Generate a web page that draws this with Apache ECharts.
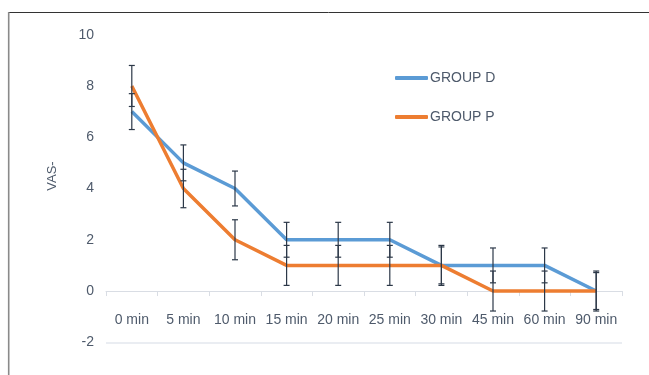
<!DOCTYPE html>
<html>
<head>
<meta charset="utf-8">
<style>
  html, body { margin: 0; padding: 0; background: #fff; }
  #chart { width: 649px; height: 375px; }
</style>
<script src="https://cdn.jsdelivr.net/npm/echarts@6/dist/echarts.min.js"></script>
</head>
<body>
<div id="chart"></div>
<script>
// Time points after the intervention
const categories = ['0 min', '5 min', '10 min', '15 min', '20 min', '25 min', '30 min', '45 min', '60 min', '90 min'];

// Mean VAS per group
const groupD = [7, 5, 4, 2, 2, 2, 1, 1, 1, 0];
const groupP = [8, 4, 2, 1, 1, 1, 1, 0, 0, 0];

// Standard deviation (error bar half-length) per group
const errD = [0.7, 0.7, 0.68, 0.68, 0.68, 0.68, 0.72, 0.68, 0.68, 0.72];
const errP = [0.8, 0.75, 0.78, 0.78, 0.78, 0.78, 0.78, 0.78, 0.78, 0.78];

// Value-axis ticks
const yTicks = [-2, 0, 2, 4, 6, 8, 10];

const labelColor = '#4e5a6b';
const fontFamily = '"Liberation Sans", Arial, sans-serif';

const gridTop = 34.7;
const gridBottom = 32.7;
const chartHeight = 375;

// The category axis crosses the value axis at 0: shift it up from the grid bottom
const plotHeight = chartHeight - gridTop - gridBottom;
const zeroShift = plotHeight * (0 - yTicks[0]) / (yTicks[yTicks.length - 1] - yTicks[0]);

function errorData(means, errs) {
  return means.map((m, i) => [i, m - errs[i], m + errs[i]]);
}

function renderError(params, api) {
  const x = api.value(0);
  const lo = api.coord([x, api.value(1)]);
  const hi = api.coord([x, api.value(2)]);
  const cap = 3;
  const style = { stroke: '#2c3848', lineWidth: 1.2 };
  return {
    type: 'group',
    children: [
      { type: 'line', shape: { x1: hi[0], y1: hi[1], x2: lo[0], y2: lo[1] }, style },
      { type: 'line', shape: { x1: hi[0] - cap, y1: hi[1], x2: hi[0] + cap, y2: hi[1] }, style },
      { type: 'line', shape: { x1: lo[0] - cap, y1: lo[1], x2: lo[0] + cap, y2: lo[1] }, style }
    ]
  };
}

const chart = echarts.init(document.getElementById('chart'));
chart.setOption({
  animation: false,
  textStyle: { fontFamily },
  grid: { left: 106, right: 27, top: gridTop, bottom: gridBottom },
  legend: {
    orient: 'vertical',
    left: 395,
    top: 71,
    padding: 0,
    itemWidth: 33,
    itemHeight: 4,
    itemGap: 25,
    icon: 'roundRect',
    data: ['GROUP D', 'GROUP P'],
    textStyle: { color: labelColor, fontSize: 14, fontFamily, padding: [0, 0, 0, -3] }
  },
  graphic: [
    { type: 'line', shape: { x1: 8, y1: 12.5, x2: 649, y2: 12.5 }, style: { stroke: '#333', lineWidth: 1 }, silent: true },
    { type: 'line', shape: { x1: 8.7, y1: 12, x2: 8.7, y2: 375 }, style: { stroke: '#8a8a8a', lineWidth: 1.6 }, silent: true },
    {
      type: 'text', x: 52, y: 176, rotation: Math.PI / 2,
      style: { text: 'VAS-', fill: labelColor, font: '13px ' + fontFamily, align: 'center', verticalAlign: 'middle' },
      silent: true
    }
  ],
  xAxis: {
    type: 'category',
    data: categories,
    boundaryGap: true,
    offset: -zeroShift,
    axisLine: { onZero: false, lineStyle: { color: '#d9dde4', width: 1 } },
    axisTick: { show: true, inside: false, length: 5, lineStyle: { color: '#d9dde4' } },
    axisLabel: { color: labelColor, fontSize: 14, margin: 22, interval: 0 },
    splitLine: { show: false }
  },
  yAxis: {
    type: 'value',
    min: yTicks[0],
    max: yTicks[yTicks.length - 1],
    interval: yTicks[1] - yTicks[0],
    axisLine: { show: false },
    axisTick: { show: false },
    axisLabel: { color: labelColor, fontSize: 14, margin: 12 },
    splitLine: {
      show: true,
      lineStyle: {
        color: ['#e3e7ee', 'rgba(0,0,0,0)', 'rgba(0,0,0,0)', 'rgba(0,0,0,0)', 'rgba(0,0,0,0)', 'rgba(0,0,0,0)', 'rgba(0,0,0,0)'],
        width: 1.5
      }
    }
  },
  series: [
    {
      name: 'GROUP D',
      type: 'line',
      data: groupD,
      color: '#5b9bd5',
      showSymbol: false,
      symbol: 'none',
      lineStyle: { width: 3.5, color: '#5b9bd5' },
      z: 2
    },
    {
      name: 'GROUP P',
      type: 'line',
      data: groupP,
      color: '#ed7d31',
      showSymbol: false,
      symbol: 'none',
      lineStyle: { width: 3.5, color: '#ed7d31' },
      z: 3
    },
    {
      type: 'custom',
      name: 'errD',
      data: errorData(groupD, errD),
      renderItem: renderError,
      encode: { x: 0, y: [1, 2] },
      z: 5,
      silent: true
    },
    {
      type: 'custom',
      name: 'errP',
      data: errorData(groupP, errP),
      renderItem: renderError,
      encode: { x: 0, y: [1, 2] },
      z: 5,
      silent: true
    }
  ]
});
</script>
</body>
</html>
